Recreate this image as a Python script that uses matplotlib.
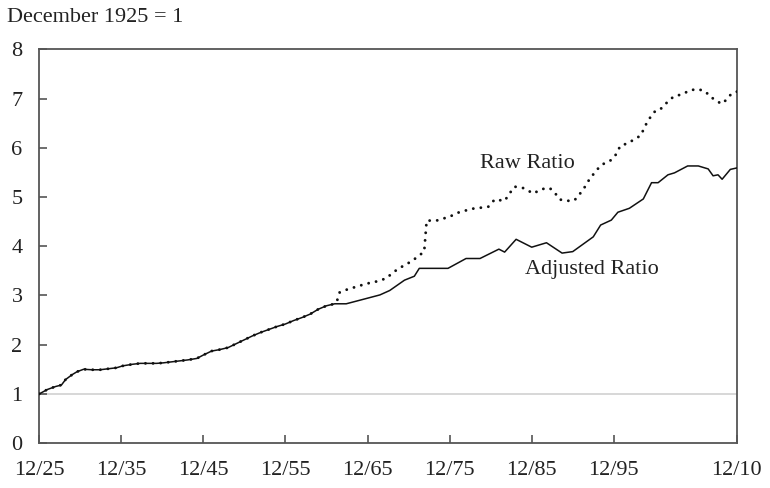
"""Raw vs adjusted ratio, December 1925 = 1"""
import matplotlib
matplotlib.use('Agg')
from matplotlib import pyplot as plt

plt.rcParams['font.family'] = ['Liberation Serif', 'DejaVu Serif']

# shared part of both series (1925-1961)
early_x = [1925, 1926, 1927, 1927.7, 1928.2, 1929, 1929.6, 1930.4, 1931.4, 1932.4,
           1933.4, 1934.4, 1935.2, 1936.3, 1937.3, 1938.3, 1939.3, 1940.1, 1941.1,
           1942.1, 1943.1, 1944.2, 1945, 1946, 1947, 1948, 1949, 1950, 1951, 1952,
           1953, 1954, 1955, 1956, 1957, 1958, 1959, 1960, 1961]
early_y = [1.00, 1.09, 1.15, 1.18, 1.29, 1.39, 1.45, 1.50, 1.49, 1.49,
           1.51, 1.53, 1.57, 1.60, 1.62, 1.62, 1.62, 1.63, 1.65,
           1.67, 1.69, 1.72, 1.79, 1.87, 1.90, 1.94, 2.02, 2.10, 2.18, 2.25,
           2.31, 2.37, 2.42, 2.49, 2.55, 2.62, 2.72, 2.79, 2.83]

# adjusted ratio after 1961
adj_x = [1962.4, 1964, 1966.5, 1967.7, 1969.5, 1970.7, 1971.3, 1974.8, 1977, 1978.7,
         1981, 1981.7, 1983.1, 1985, 1986.8, 1988.7, 1990, 1992.5, 1993.4, 1994.7,
         1995.5, 1996.9, 1998.6, 1999.6, 2000.4, 2001.6, 2002.4, 2004, 2005.3,
         2006.5, 2007.1, 2007.7, 2008.2, 2009.2, 2010]
adj_y = [2.83, 2.90, 3.01, 3.10, 3.31, 3.39, 3.55, 3.55, 3.75, 3.75,
         3.94, 3.88, 4.14, 3.98, 4.07, 3.86, 3.89, 4.19, 4.43, 4.53,
         4.69, 4.77, 4.96, 5.29, 5.29, 5.45, 5.49, 5.63, 5.63,
         5.57, 5.43, 5.45, 5.36, 5.56, 5.59]

# raw ratio after 1961
raw_x = [1961.3, 1961.6, 1962.5, 1963.5, 1964.5, 1965.4, 1966.3, 1967.3, 1968, 1968.8,
         1969.6, 1970.5, 1971.2, 1971.9, 1972.2, 1973.4, 1975, 1976, 1977.7, 1979.7,
         1980.5, 1981.7, 1982.3, 1982.9, 1984, 1985.2, 1986.2, 1987.2, 1987.8, 1988.4,
         1989.2, 1990.2, 1990.9, 1991.5, 1992, 1992.6, 1993.3, 1994, 1994.7, 1995.3,
         1995.8, 1996.7, 1997.4, 1998.3, 1998.7, 1999.1, 1999.7, 2000.2, 2000.8,
         2001.6, 2002.3, 2003.4, 2004.3, 2005.3, 2006.2, 2006.7, 2007.5, 2008.1,
         2008.7, 2009.3, 2010]
raw_y = [2.90, 3.06, 3.12, 3.17, 3.22, 3.26, 3.29, 3.35, 3.45, 3.55,
         3.62, 3.71, 3.80, 3.89, 4.52, 4.52, 4.60, 4.68, 4.76, 4.80,
         4.95, 4.92, 5.07, 5.21, 5.18, 5.07, 5.16, 5.18, 5.09, 4.95,
         4.92, 4.93, 5.07, 5.21, 5.35, 5.48, 5.62, 5.70, 5.75, 5.87,
         6.04, 6.09, 6.16, 6.25, 6.40, 6.53, 6.68, 6.77, 6.80,
         6.94, 7.04, 7.09, 7.17, 7.19, 7.14, 7.04, 6.96, 6.89,
         6.97, 7.09, 7.14]

tick_years = [1925, 1935, 1945, 1955, 1965, 1975, 1985, 1995, 2010]
tick_labels = ['12/25', '12/35', '12/45', '12/55', '12/65', '12/75', '12/85', '12/95', '12/10']

fig = plt.figure(figsize=(7.7, 4.88), dpi=100)
ax = fig.add_axes([0.051, 0.092, 0.906, 0.807])

ax.axhline(1, color='#d4d4d4', lw=1.3, zorder=1)
ax.plot(early_x + adj_x, early_y + adj_y, color='#111111', lw=1.1, zorder=3)
ax.plot(early_x + raw_x, early_y + raw_y, color='#111111', lw=2.1,
        ls=(0, (0.01, 2.6)), dash_capstyle='round', zorder=4)

ax.set_xlim(1925, 2010)
ax.set_ylim(0, 8)
ax.set_xticks(tick_years)
ax.set_xticklabels(tick_labels)
ax.set_yticks(range(0, 9))

for s in ax.spines.values():
    s.set_color('#555555')
    s.set_linewidth(1.3)
ax.tick_params(axis='both', direction='in', length=6, width=1.2, color='#555555',
               labelsize=16, labelcolor='#222222')
ax.tick_params(axis='x', pad=13)
ax.tick_params(axis='y', pad=12)

ax.text(1984.5, 5.67, 'Raw Ratio', fontsize=16, color='#222222', ha='center', va='center')
ax.text(1992.3, 3.52, 'Adjusted Ratio', fontsize=16, color='#222222', ha='center', va='center')
fig.text(0.009, 0.955, 'December 1925 = 1', fontsize=16, color='#222222', ha='left', va='baseline')

fig.savefig('out.png', dpi=100)
